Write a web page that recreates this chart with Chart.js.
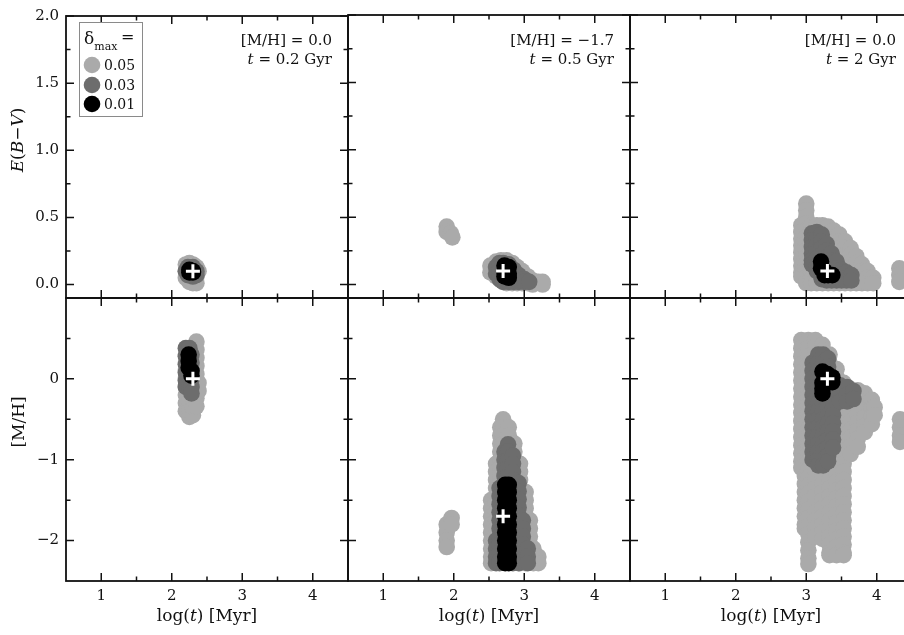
<!DOCTYPE html>
<html>
<head>
<meta charset="utf-8">
<script src="https://cdn.jsdelivr.net/npm/chart.js@4.4.1/dist/chart.umd.min.js"></script>
<style>
  html, body { margin:0; padding:0; overflow:hidden; background:#fff; width:904px; height:635px; }
  canvas { position:absolute; left:0; top:0; }
</style>
</head>
<body>
<canvas id="c0" width="920" height="635"></canvas>
<canvas id="c1" width="920" height="635"></canvas>
<canvas id="c2" width="920" height="635"></canvas>
<canvas id="c3" width="920" height="635"></canvas>
<canvas id="c4" width="920" height="635"></canvas>
<canvas id="c5" width="920" height="635"></canvas>
<script>
// ---------- axis ticks and labels ----------
const xTicks = [1, 2, 3, 4];
const xTickLabels = ['1', '2', '3', '4'];
const xMinor = [1.5, 2.5, 3.5];
const ebvTicks = [0, 0.5, 1.0, 1.5, 2.0];
const ebvTickLabels = ['0.0', '0.5', '1.0', '1.5', '2.0'];
const ebvMinor = [0.25, 0.75, 1.25, 1.75];
const mhTicks = [-2, -1, 0];
const mhTickLabels = ['\u22122', '\u22121', '0'];
const mhMinor = [-1.5, -0.5, 0.5];
const deltaLabels = ['0.05', '0.03', '0.01'];

// ---------- true cluster parameters (white crosses) ----------
const truthLogT = [2.3, 2.7, 3.3];
const truthEBV = [0.1, 0.1, 0.1];
const truthMH = [0.0, -1.7, 0.0];
const panelMH = ['0.0', '\u22121.7', '0.0'];
const panelAge = ['0.2', '0.5', '2'];

// ---------- solutions: [log t, [values...]] ----------
// column A: [M/H]=0.0, t=0.2 Gyr
const ebvA_005 = [[2.2,[0.15,0.1,0.05]],[2.25,[0.16,0.06,0.02]],[2.3,[0.15,0.03,0.01]],[2.35,[0.13,0.06,0.01]],[2.38,[0.1]]];
const ebvA_003 = [[2.2,[0.1]],[2.23,[0.13,0.07]],[2.3,[0.13,0.06]],[2.35,[0.1,0.07]]];
const ebvA_001 = [[2.25,[0.11,0.09]],[2.3,[0.1,0.09]]];
const mhA_005 = [[2.2,[0.3,0.2,0.1,0.0,-0.1,-0.2,-0.3,-0.4]],[2.25,[-0.47,-0.37,-0.27,-0.2]],[2.3,[-0.45,-0.35,-0.25]],[2.35,[0.46,0.36,0.26,0.16,0.06,-0.04,-0.14,-0.24,-0.34]],[2.38,[-0.05,-0.15]]];
const mhA_003 = [[2.2,[0.38,0.28,0.18,0.08,-0.02,-0.1]],[2.25,[0.38,-0.1]],[2.28,[0.3,0.2,0.1,0.0,-0.1,-0.18]]];
const mhA_001 = [[2.24,[0.3,0.22,0.14]],[2.28,[0.1,0.04]]];

// column B: [M/H]=-1.7, t=0.5 Gyr
const ebvB_005 = [[1.9,[0.43,0.39]],[1.96,[0.38]],[1.98,[0.35]],[2.52,[0.14,0.09]],[2.6,[0.17,0.12,0.06]],[2.67,[0.18,0.1,0.03]],[2.75,[0.18,0.1,0.01]],[2.83,[0.16,0.1,0.01]],[2.9,[0.13,0.07,0.01]],[2.97,[0.1,0.05,0.01]],[3.05,[0.06,0.01]],[3.12,[0.03,0.0]],[3.2,[0.02]],[3.26,[0.02,0.0]]];
const ebvB_003 = [[2.6,[0.13,0.08]],[2.65,[0.16,0.1,0.04]],[2.7,[0.16,0.1,0.04,0.02]],[2.78,[0.15,0.1,0.05,0.02]],[2.85,[0.11,0.06,0.02]],[2.92,[0.07,0.02]],[3.0,[0.04,0.02]],[3.07,[0.02]]];
const ebvB_001 = [[2.72,[0.14,0.09,0.06]],[2.78,[0.13,0.08,0.05]]];
const mhB_005 = [
  [1.9,[-1.8,-1.9,-2.0,-2.08]],
  [1.97,[-1.72,-1.8]],
  [2.53,[-1.5,-1.6,-1.7,-1.8,-1.9,-2.0,-2.1,-2.2,-2.28]],
  [2.6,[-1.05,-1.15,-1.25,-1.35,-1.45,-1.55,-1.65,-1.75,-1.85,-1.95,-2.05,-2.15,-2.25]],
  [2.66,[-0.6,-0.7,-0.8,-0.9,-1.0,-1.1,-1.2,-1.3,-1.4,-1.5]],
  [2.7,[-0.5,-0.6,-0.7,-0.8,-0.9]],
  [2.78,[-0.6,-0.7,-0.8]],
  [2.86,[-0.8,-0.9,-1.0,-1.1,-1.2,-1.3]],
  [2.94,[-1.05,-1.15,-1.25,-1.35,-1.45,-1.55,-1.65,-1.75,-1.85,-1.95,-2.05,-2.15,-2.25,-2.28]],
  [3.02,[-1.4,-1.5,-1.6,-1.7,-1.8,-1.9,-2.0,-2.1,-2.2,-2.28]],
  [3.08,[-1.75,-1.85,-1.95,-2.05,-2.15,-2.25]],
  [3.13,[-2.1,-2.2,-2.28]],
  [3.2,[-2.2,-2.28]]];
const mhB_003 = [
  [2.6,[-2.0,-2.1,-2.2,-2.28]],
  [2.65,[-1.35,-1.45,-1.55,-1.65,-1.75,-1.85,-1.95,-2.05,-2.15,-2.25,-2.28]],
  [2.72,[-0.9,-1.0,-1.1,-1.2,-1.3,-1.4]],
  [2.77,[-0.81,-0.9,-1.0,-1.1,-1.2,-1.3,-1.4]],
  [2.84,[-0.95,-1.05,-1.15,-1.25,-1.35,-1.45,-1.55,-1.65,-1.75,-1.85,-1.95,-2.05,-2.15,-2.25,-2.28]],
  [2.92,[-1.29,-1.39,-1.49,-1.59,-1.69,-1.79,-1.89,-1.99,-2.09,-2.19,-2.28]],
  [2.98,[-1.75,-1.85,-1.95,-2.05,-2.15,-2.25]],
  [3.05,[-2.1,-2.2,-2.28]]];
const mhB_001 = [
  [2.73,[-1.31,-1.4,-1.5,-1.6,-1.7,-1.8,-1.9,-2.0,-2.1,-2.2,-2.28]],
  [2.78,[-1.31,-1.4,-1.5,-1.6,-1.7,-1.8,-1.9,-2.0,-2.1,-2.2,-2.28]]];

// column C: [M/H]=0.0, t=2 Gyr
const ebvC_005 = [
  [2.93,[0.44,0.39,0.34,0.29,0.24,0.19,0.14,0.09,0.06]],
  [3.0,[0.6,0.55,0.5,0.45,0.4,0.35,0.3,0.25,0.2,0.15,0.1,0.05,0.01]],
  [3.07,[0.44,0.39,0.34,0.29,0.24,0.19,0.14,0.09,0.04,0.01]],
  [3.15,[0.44,0.39,0.34,0.29,0.24,0.19,0.14,0.09,0.04,0.01]],
  [3.23,[0.44,0.39,0.34,0.29,0.24,0.19,0.14,0.09,0.04,0.01]],
  [3.31,[0.43,0.38,0.33,0.28,0.23,0.18,0.13,0.08,0.03,0.01]],
  [3.39,[0.4,0.35,0.3,0.25,0.2,0.15,0.1,0.05,0.01]],
  [3.47,[0.37,0.32,0.27,0.22,0.17,0.12,0.07,0.01]],
  [3.55,[0.32,0.27,0.22,0.17,0.12,0.07,0.01]],
  [3.63,[0.27,0.22,0.17,0.12,0.07,0.01]],
  [3.71,[0.21,0.16,0.11,0.06,0.01]],
  [3.79,[0.15,0.1,0.05,0.01]],
  [3.87,[0.1,0.05,0.01]],
  [3.95,[0.05,0.01]],
  [4.32,[0.12,0.07,0.02]]];
const ebvC_003 = [
  [3.08,[0.38,0.33,0.28,0.23,0.18,0.15]],
  [3.15,[0.39,0.34,0.29,0.24,0.19,0.14,0.1]],
  [3.22,[0.37,0.32,0.27,0.22,0.17,0.12,0.07,0.04]],
  [3.29,[0.3,0.25,0.2,0.15,0.1,0.05,0.03]],
  [3.36,[0.23,0.18,0.13,0.08,0.03]],
  [3.43,[0.17,0.12,0.07,0.03]],
  [3.5,[0.11,0.07,0.03]],
  [3.57,[0.09,0.05,0.03]],
  [3.64,[0.07,0.03]]];
const ebvC_001 = [[3.21,[0.17,0.12]],[3.26,[0.1,0.07]],[3.31,[0.07]],[3.37,[0.07]]];
const mhC_005 = [
  [2.93,[0.48,0.38,0.28,0.18,0.08,-0.02,-0.12,-0.22,-0.32,-0.42,-0.52,-0.62,-0.72,-0.82,-0.92,-1.02,-1.1]],
  [2.98,[-1.2,-1.3,-1.4,-1.5,-1.6,-1.7,-1.8,-1.85]],
  [3.03,[0.48,0.38,0.28,0.18,0.08,-0.02,-0.12,-0.22,-0.32,-0.42,-0.52,-0.62,-0.72,-0.82,-0.92,-1.02,-1.12,-1.22,-1.32,-1.42,-1.52,-1.62,-1.72,-1.82,-1.92,-2.02,-2.12,-2.22,-2.29]],
  [3.13,[0.48,0.4,0.32,-1.05,-1.15,-1.25,-1.35,-1.45,-1.55,-1.65,-1.75,-1.85,-1.95]],
  [3.23,[0.42,0.35,-1.1,-1.2,-1.3,-1.4,-1.5,-1.6,-1.7,-1.8,-1.9,-1.98]],
  [3.33,[0.3,0.2,-0.95,-1.05,-1.15,-1.25,-1.35,-1.45,-1.55,-1.65,-1.75,-1.85,-1.95,-2.05,-2.15,-2.18]],
  [3.43,[0.12,0.02,-0.08,-0.18,-0.28,-0.38,-0.48,-0.58,-0.68,-0.78,-0.88,-0.98,-1.08,-1.18,-1.28,-1.38,-1.48,-1.58,-1.68,-1.78,-1.88,-1.98,-2.08,-2.18]],
  [3.53,[-0.05,-0.15,-0.25,-0.35,-0.45,-0.55,-0.65,-0.75,-0.85,-0.95,-1.05,-1.15,-1.25,-1.35,-1.45,-1.55,-1.65,-1.75,-1.85,-1.95,-2.05,-2.15,-2.18]],
  [3.63,[-0.13,-0.23,-0.33,-0.43,-0.53,-0.63,-0.73,-0.83,-0.93]],
  [3.73,[-0.14,-0.24,-0.34,-0.44,-0.54,-0.64,-0.74,-0.84]],
  [3.83,[-0.18,-0.28,-0.38,-0.48,-0.58,-0.66]],
  [3.93,[-0.26,-0.36,-0.46,-0.56]],
  [3.97,[-0.35,-0.45]],
  [4.33,[-0.5,-0.6,-0.7,-0.78]]];
const mhC_003 = [
  [3.09,[0.2,0.1,0.0,-0.1,-0.2,-0.3,-0.4,-0.5,-0.6,-0.7,-0.8,-0.9,-1.0]],
  [3.17,[0.3,0.2,0.1,0.0,-0.1,-0.2,-0.3,-0.4,-0.5,-0.6,-0.7,-0.8,-0.9,-1.0,-1.07]],
  [3.24,[0.3,0.2,0.1,0.0,-0.1,-0.2,-0.3,-0.4,-0.5,-0.6,-0.7,-0.8,-0.9,-1.0,-1.07]],
  [3.31,[0.25,0.15,0.05,-0.05,-0.15,-0.25,-0.35,-0.45,-0.55,-0.65,-0.75,-0.85,-0.95,-1.02]],
  [3.38,[-0.05,-0.15,-0.25,-0.35,-0.45,-0.55,-0.65,-0.75,-0.85]],
  [3.48,[-0.08,-0.18,-0.28]],
  [3.58,[-0.1,-0.2,-0.28]],
  [3.67,[-0.15,-0.25]]];
const mhC_001 = [[3.23,[0.09,-0.05,-0.12,-0.18]],[3.3,[0.06,-0.02]],[3.37,[0.02,-0.04]]];

// ---------- style ----------
const COL_005 = '#aaaaaa', COL_003 = '#6d6d6d', COL_001 = '#000000';
const R = 8.3;
const SERIF = "'DejaVu Serif', serif";
const X0 = [66, 348, 630], PW = 282, Y0 = [15, 298], PH = 283, CW = 920, CH = 635;

function flat(cols) {
  const out = [];
  for (const [u, vs] of cols) for (const v of vs) out.push({x: u, y: v});
  return out;
}

function drawParts(ctx, parts, x, y, align) {
  // parts: [text, font]
  let total = 0;
  const widths = parts.map(([t, f]) => { ctx.font = f; const w = ctx.measureText(t).width; total += w; return w; });
  let cx = align === 'right' ? x - total : (align === 'center' ? x - total / 2 : x);
  ctx.textAlign = 'left';
  parts.forEach(([t, f], i) => { ctx.font = f; ctx.fillText(t, cx, y); cx += widths[i]; });
}

const framePlugin = {
  id: 'frame',
  afterDraw(chart, args, opts) {
    const {ctx, chartArea: a} = chart;
    const xs = chart.scales.x, ys = chart.scales.y;
    const row = opts.row, col = opts.col;
    ctx.save();
    ctx.strokeStyle = '#111';
    ctx.lineCap = 'butt';
    // inward ticks on all four sides
    const yMaj = row === 0 ? ebvTicks : mhTicks;
    const yMin = row === 0 ? ebvMinor : mhMinor;
    const tx = (vals, len) => {
      for (const v of vals) {
        const p = xs.getPixelForValue(v);
        ctx.moveTo(p, a.bottom); ctx.lineTo(p, a.bottom - len);
        ctx.moveTo(p, a.top); ctx.lineTo(p, a.top + len);
      }
    };
    const ty = (vals, len) => {
      for (const v of vals) {
        const p = ys.getPixelForValue(v);
        ctx.moveTo(a.left, p); ctx.lineTo(a.left + len, p);
        ctx.moveTo(a.right, p); ctx.lineTo(a.right - len, p);
      }
    };
    ctx.lineWidth = 1.5;
    ctx.beginPath();
    tx(xTicks, 8); tx(xMinor, 4.5); ty(yMaj, 8); ty(yMin, 4.5);
    ctx.stroke();
    ctx.lineWidth = 1.8;
    ctx.strokeRect(a.left, a.top, a.right - a.left, a.bottom - a.top);

    ctx.fillStyle = '#111';
    ctx.textBaseline = 'middle';
    // axis titles
    if (row === 1) {
      const cx = (a.left + a.right) / 2;
      drawParts(ctx, [['log(', '17px ' + SERIF], ['t', 'italic 17px ' + SERIF], [') [Myr]', '17px ' + SERIF]], cx, 617, 'center');
    }
    if (col === 0) {
      ctx.save();
      if (row === 0) {
        ctx.translate(19, 140);
        ctx.rotate(-Math.PI / 2);
        drawParts(ctx, [['E', 'italic 17px ' + SERIF], ['(', '17px ' + SERIF], ['B', 'italic 17px ' + SERIF], ['\u2212', '17px ' + SERIF], ['V', 'italic 17px ' + SERIF], [')', '17px ' + SERIF]], 0, 0, 'center');
      } else {
        ctx.translate(20, 422);
        ctx.rotate(-Math.PI / 2);
        drawParts(ctx, [['[M/H]', '17px ' + SERIF]], 0, 0, 'center');
      }
      ctx.restore();
    }
    // panel annotation
    if (row === 0) {
      const rx = a.right - 16;
      drawParts(ctx, [['[M/H] = ' + panelMH[col], '15px ' + SERIF]], rx, 41, 'right');
      drawParts(ctx, [['t', 'italic 15px ' + SERIF], [' = ' + panelAge[col] + ' Gyr', '15px ' + SERIF]], rx, 60, 'right');
    }
    // legend
    if (row === 0 && col === 0) {
      ctx.fillStyle = '#fff';
      ctx.fillRect(79.5, 22.5, 63, 94);
      ctx.strokeStyle = '#8a8a8a';
      ctx.lineWidth = 1;
      ctx.strokeRect(79.5, 22.5, 63, 94);
      ctx.fillStyle = '#111';
      ctx.textBaseline = 'alphabetic';
      ctx.textAlign = 'left';
      ctx.font = '17px ' + SERIF;
      ctx.fillText('\u03b4', 84, 44);
      const dw = ctx.measureText('\u03b4').width;
      ctx.font = '11px ' + SERIF;
      ctx.fillText('max', 84 + dw, 50);
      ctx.font = '16px ' + SERIF;
      ctx.fillText('=', 121, 42);
      const cols = [COL_005, COL_003, COL_001];
      const ly = [65, 85, 104];
      ctx.textBaseline = 'middle';
      ctx.font = '14px ' + SERIF;
      for (let i = 0; i < 3; i++) {
        ctx.beginPath();
        ctx.fillStyle = cols[i];
        ctx.arc(92, ly[i], R, 0, Math.PI * 2);
        ctx.fill();
        ctx.fillStyle = '#111';
        ctx.fillText(deltaLabels[i], 104, ly[i] + 1);
      }
    }
    ctx.restore();
  }
};

const panels = [
  {row:0, col:0, s:[ebvA_005, ebvA_003, ebvA_001], truth:{x:truthLogT[0], y:truthEBV[0]}},
  {row:0, col:1, s:[ebvB_005, ebvB_003, ebvB_001], truth:{x:truthLogT[1], y:truthEBV[1]}},
  {row:0, col:2, s:[ebvC_005, ebvC_003, ebvC_001], truth:{x:truthLogT[2], y:truthEBV[2]}},
  {row:1, col:0, s:[mhA_005, mhA_003, mhA_001], truth:{x:truthLogT[0], y:truthMH[0]}},
  {row:1, col:1, s:[mhB_005, mhB_003, mhB_001], truth:{x:truthLogT[1], y:truthMH[1]}},
  {row:1, col:2, s:[mhC_005, mhC_003, mhC_001], truth:{x:truthLogT[2], y:truthMH[2]}}
];

panels.forEach((p, idx) => {
  const isLeft = p.col === 0, isBottom = p.row === 1;
  const yW = isLeft ? X0[0] : 0;
  const xH = isBottom ? CH - (Y0[1] + PH) : 0;
  const yT = p.row === 0 ? ebvTicks : mhTicks;
  const yL = p.row === 0 ? ebvTickLabels : mhTickLabels;
  const pt = (color, data, label) => ({
    label, data: flat(data), backgroundColor: color, borderColor: color, borderWidth: 0,
    pointRadius: R, pointHoverRadius: R, pointStyle: 'circle'
  });
  new Chart(document.getElementById('c' + idx), {
    type: 'scatter',
    data: {
      datasets: [
        {label: 'true', data: [p.truth], pointStyle: 'cross', pointRadius: 7, pointHoverRadius: 7,
         borderColor: '#ffffff', backgroundColor: '#ffffff', borderWidth: 3},
        pt(COL_001, p.s[2], deltaLabels[2]),
        pt(COL_003, p.s[1], deltaLabels[1]),
        pt(COL_005, p.s[0], deltaLabels[0])
      ]
    },
    options: {
      responsive: false,
      animation: false,
      devicePixelRatio: 1,
      events: [],
      layout: {
        autoPadding: false,
        padding: {left: X0[p.col] - yW, top: Y0[p.row], right: CW - (X0[p.col] + PW), bottom: CH - (Y0[p.row] + PH) - xH}
      },
      plugins: {legend: {display: false}, tooltip: {enabled: false}, frame: {row: p.row, col: p.col}},
      scales: {
        x: {
          type: 'linear', min: 0.5, max: 4.5,
          grid: {display: false, drawTicks: false}, border: {display: false},
          afterBuildTicks: s => { s.ticks = xTicks.map(v => ({value: v})); },
          afterFit: s => { s.height = xH; },
          ticks: {display: isBottom, padding: 6, color: '#111', font: {family: SERIF, size: 15},
                  maxRotation: 0, autoSkip: false, callback: (v, i) => xTickLabels[i]}
        },
        y: {
          type: 'linear', min: p.row === 0 ? -0.1 : -2.5, max: p.row === 0 ? 2.0 : 1.0,
          grid: {display: false, drawTicks: false}, border: {display: false},
          afterBuildTicks: s => { s.ticks = yT.map(v => ({value: v})); },
          afterFit: s => { s.width = yW; },
          ticks: {display: isLeft, padding: 7, color: '#111', font: {family: SERIF, size: 15},
                  autoSkip: false, callback: (v, i) => yL[i]}
        }
      }
    },
    plugins: [framePlugin]
  });
});
</script>
</body>
</html>
